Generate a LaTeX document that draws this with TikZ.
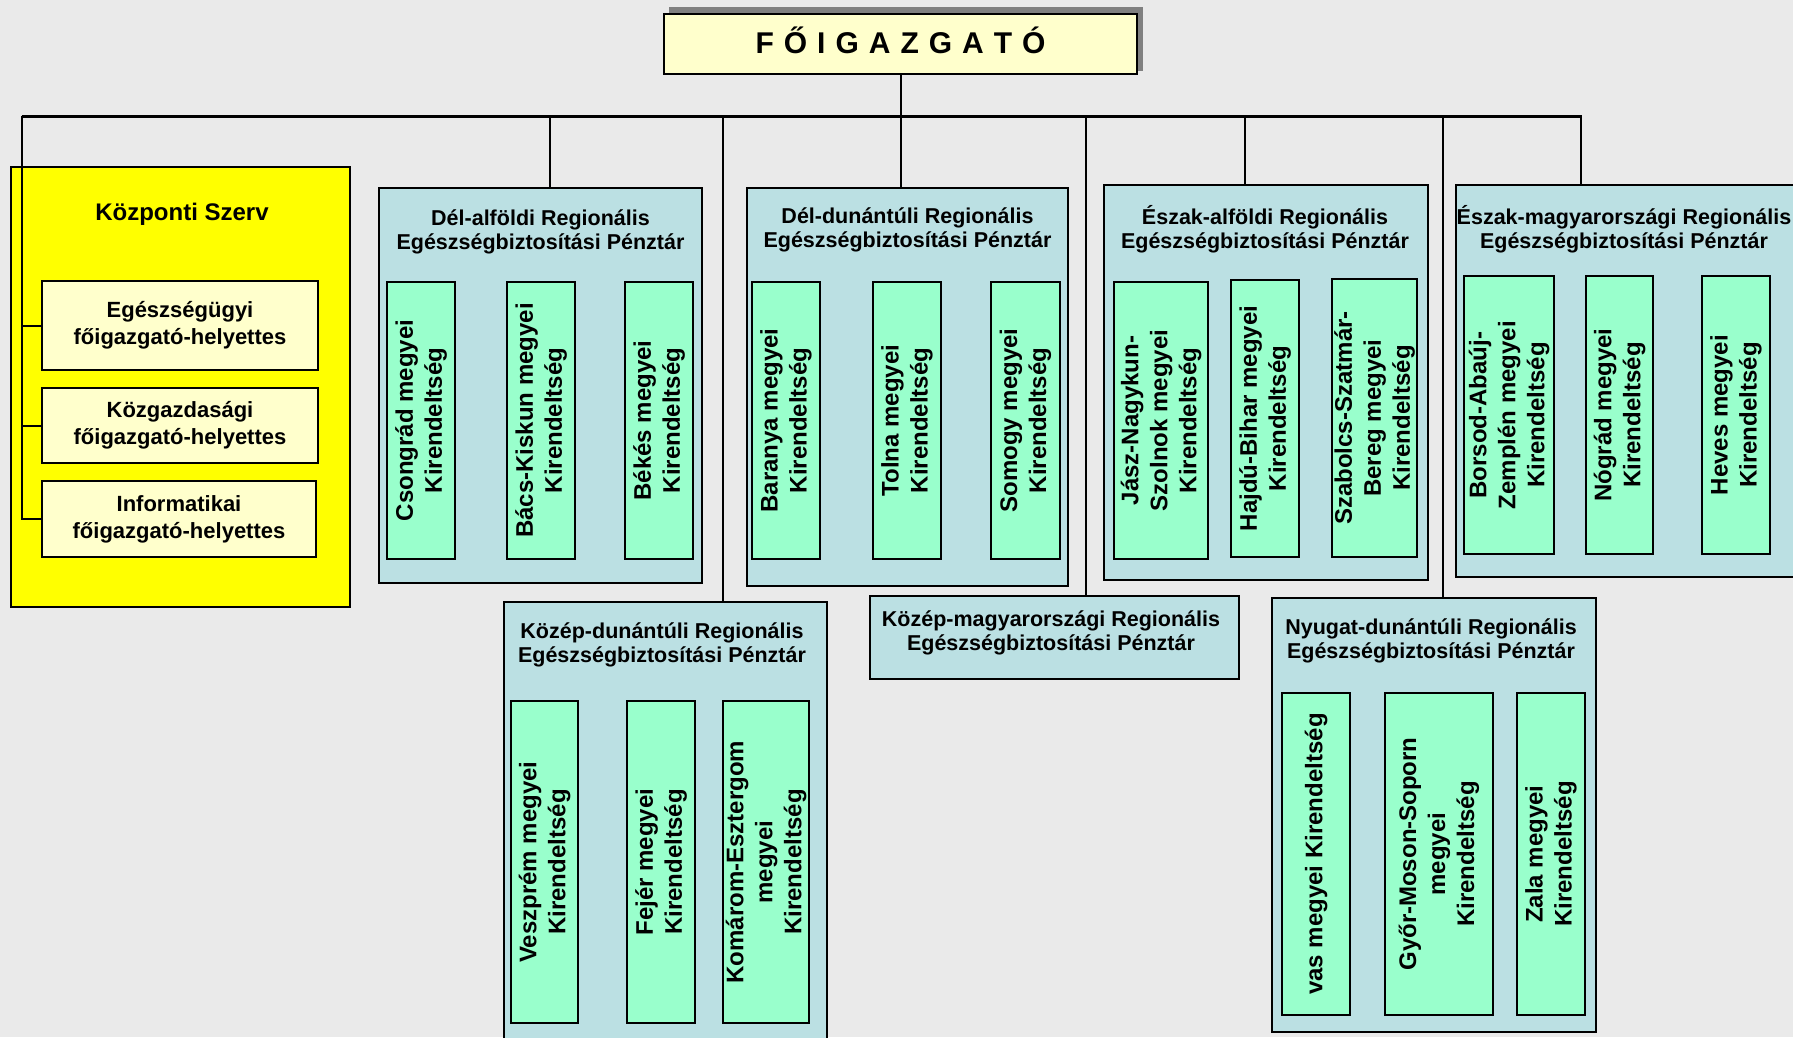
\documentclass[tikz,border=0pt]{standalone}
\usepackage{fontspec}
\setmainfont{Liberation Sans}
\definecolor{bg}{HTML}{EAEAEA}
\definecolor{titlefill}{HTML}{FFFFCC}
\definecolor{shadowgray}{HTML}{808080}
\definecolor{centralfill}{HTML}{FFFF00}
\definecolor{regionfill}{HTML}{BBE0E3}
\definecolor{leaffill}{HTML}{99FFCC}
\begin{document}
\begin{tikzpicture}[x=1pt,y=-1pt,
  every node/.style={inner sep=0pt,outer sep=0pt},
  boxbase/.style={draw=black,line width=2.5pt,rectangle,anchor=north west},
  bossbox/.style={boxbase,fill=titlefill},
  centralbox/.style={boxbase,fill=centralfill},
  subbox/.style={boxbase,fill=titlefill,align=center,font=\fontsize{22}{27}\selectfont\bfseries},
  regionbox/.style={boxbase,fill=regionfill},
  rtitle/.style={align=center,font=\fontsize{21.5}{24}\selectfont\bfseries},
  leaf/.style={draw=black,line width=2.5pt,rectangle,fill=leaffill,rotate=90,align=center,font=\fontsize{24}{29}\selectfont\bfseries},
  conn/.style={line width=2pt,draw=black},
  barline/.style={line width=3pt,draw=black}
]
% background / bounding box
\fill[bg] (0,0) rectangle (1793,1037);
\useasboundingbox (0,0) rectangle (1793,1037);
\clip (0,0) rectangle (1793,1037);

% boss
\fill[shadowgray] (669,7) rectangle (1143,71);
\node[bossbox,minimum width=473,minimum height=60] (boss) at (664,14) {};
\node[anchor=base,font=\fontsize{30}{36}\selectfont\bfseries] (bosst) at (900.5,53) {F\hspace{10pt}Ő\hspace{10pt}I\hspace{10pt}G\hspace{10pt}A\hspace{10pt}Z\hspace{10pt}G\hspace{10pt}A\hspace{10pt}T\hspace{10pt}Ó};

% bar coordinates
\coordinate (barL) at (21.5,116);
\coordinate (barR) at (1582,116);
\coordinate (d1) at (550,116);
\coordinate (d2) at (723,116);
\coordinate (d3) at (1086,116);
\coordinate (d4) at (1245,116);
\coordinate (d5) at (1443,116);
\coordinate (d6) at (1581,116);

% central organ
\node[centralbox,minimum width=339,minimum height=440] (central) at (11,167) {};
\node[font=\fontsize{24}{28}\selectfont\bfseries] (centralt) at (182,214) {Központi Szerv};
\node[subbox,minimum width=276,minimum height=89] (sub1) at (42,281) {Egészségügyi\\főigazgató-helyettes};
\node[subbox,minimum width=276,minimum height=75] (sub2) at (42,388) {Közgazdasági\\főigazgató-helyettes};
\node[subbox,minimum width=274,minimum height=76] (sub3) at (42,481) {Informatikai\\főigazgató-helyettes};

% regions
\node[regionbox,minimum width=323,minimum height=395] (dalf) at (379,188) {};
\node[rtitle] (dalft) at (540.5,232) {Dél-alföldi Regionális\\Egészségbiztosítási Pénztár};
\node[regionbox,minimum width=321,minimum height=398] (ddun) at (747,188) {};
\node[rtitle] (ddunt) at (907.5,230) {Dél-dunántúli Regionális\\Egészségbiztosítási Pénztár};
\node[regionbox,minimum width=324,minimum height=395] (ealf) at (1104,185) {};
\node[rtitle] (ealft) at (1265,229) {Észak-alföldi Regionális\\Egészségbiztosítási Pénztár};
\node[regionbox,minimum width=350,minimum height=392] (emag) at (1456,185) {};
\node[rtitle] (emagt) at (1624,229) {Észak-magyarországi Regionális\\Egészségbiztosítási Pénztár};
\node[regionbox,minimum width=323,minimum height=450] (kdun) at (504,602) {};
\node[rtitle] (kdunt) at (662,645) {Közép-dunántúli Regionális\\Egészségbiztosítási Pénztár};
\node[regionbox,minimum width=369,minimum height=83] (kmag) at (870,596) {};
\node[rtitle] (kmagt) at (1051,633) {Közép-magyarországi Regionális\\Egészségbiztosítási Pénztár};
\node[regionbox,minimum width=324,minimum height=434] (nydun) at (1272,598) {};
\node[rtitle] (nydunt) at (1431,640.5) {Nyugat-dunántúli Regionális\\Egészségbiztosítási Pénztár};

% leaves
\node[leaf,minimum width=277,minimum height=68] (csong) at (421,420.5) {Csongrád megyei\\Kirendeltség};
\node[leaf,minimum width=277,minimum height=68] (bacs) at (541,420.5) {Bács-Kiskun megyei\\Kirendeltség};
\node[leaf,minimum width=277,minimum height=68] (bekes) at (659,420.5) {Békés megyei\\Kirendeltség};
\node[leaf,minimum width=277,minimum height=68] (baranya) at (786,420.5) {Baranya megyei\\Kirendeltség};
\node[leaf,minimum width=277,minimum height=68] (tolna) at (907,420.5) {Tolna megyei\\Kirendeltség};
\node[leaf,minimum width=277,minimum height=69] (somogy) at (1025.5,420.5) {Somogy megyei\\Kirendeltség};
\node[leaf,minimum width=277,minimum height=94] (jasz) at (1161,420.5) {Jász-Nagykun-\\Szolnok megyei\\Kirendeltség};
\node[leaf,minimum width=277,minimum height=68] (hajdu) at (1265,418.5) {Hajdú-Bihar megyei\\Kirendeltség};
\node[leaf,minimum width=278,minimum height=85] (szab) at (1374.5,418) {Szabolcs-Szatmár-\\Bereg megyei\\Kirendeltség};
\node[leaf,minimum width=278,minimum height=90] (borsod) at (1509,415) {Borsod-Abaúj-\\Zemplén megyei\\Kirendeltség};
\node[leaf,minimum width=278,minimum height=67] (nograd) at (1619.5,415) {Nógrád megyei\\Kirendeltség};
\node[leaf,minimum width=278,minimum height=68] (heves) at (1736,415) {Heves megyei\\Kirendeltség};
\node[leaf,minimum width=322,minimum height=67] (veszp) at (544.5,862) {Veszprém megyei\\Kirendeltség};
\node[leaf,minimum width=322,minimum height=68] (fejer) at (661,862) {Fejér megyei\\Kirendeltség};
\node[leaf,minimum width=322,minimum height=86] (komarom) at (766,862) {Komárom-Esztergom\\megyei\\Kirendeltség};
\node[leaf,minimum width=322,minimum height=68] (vas) at (1316,854) {vas megyei Kirendeltség};
\node[leaf,minimum width=322,minimum height=108] (gyor) at (1439,854) {Győr-Moson-Soporn\\megyei\\Kirendeltség};
\node[leaf,minimum width=322,minimum height=68] (zala) at (1551,854) {Zala megyei\\Kirendeltség};

% connectors
\draw[conn] (boss.south) -- (boss.south |- barL);
\draw[barline] (barL) -- (barR);
\draw[conn] (barL) |- (sub3.west);
\draw[conn] (barL |- sub1.west) -- (sub1.west);
\draw[conn] (barL |- sub2.west) -- (sub2.west);
\draw[conn] (d1) -- (d1 |- dalf.north);
\draw[conn] (d2) -- (d2 |- kdun.north);
\draw[conn] (boss.south |- barL) -- (boss.south |- ddun.north);
\draw[conn] (d3) -- (d3 |- kmag.north);
\draw[conn] (d4) -- (d4 |- ealf.north);
\draw[conn] (d5) -- (d5 |- nydun.north);
\draw[conn] (d6) -- (d6 |- emag.north);
\end{tikzpicture}
\end{document}
